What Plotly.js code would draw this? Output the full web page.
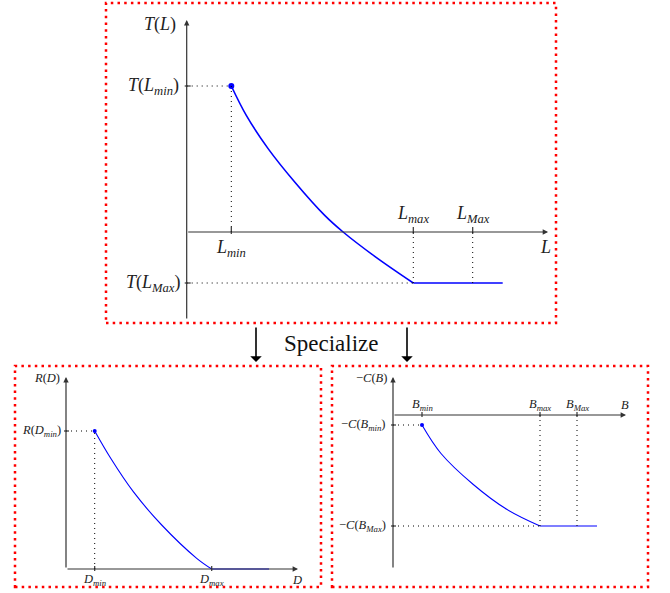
<!DOCTYPE html>
<html>
<head>
<meta charset="utf-8">
<script src="https://cdn.plot.ly/plotly-3.0.1.min.js"></script>
<style>body{margin:0;background:#fff}#chart{width:670px;height:593px}</style>
</head>
<body>
<div id="chart"></div>
<script>
// top: T(L)
const tL = [2.23, 2.98, 4.07, 5.4, 6.9, 7.82, 9.42, 11.33];
const tT = [7.3, 5.83, 4.17, 2.5, 0.83, 0, -1.23, -2.55];
const tFlatL = [11.33, 15.8];
const tFlatT = [-2.55, -2.55];
const Lmin = 2.23, Lmax = 11.33, LMax = 14.3, Tmin = 7.3, TMax = -2.55;

// bottom left: R(D)
const rD = [2.87, 4.47, 6.73, 9.57, 13.07, 14.57];
const rR = [13.8, 11.07, 7.73, 4.4, 1.07, 0];
const rFlatD = [14.57, 20.3];
const rFlatR = [0, 0];
const Dmin = 2.87, Dmax = 14.57, Rmin = 13.8;

// bottom right: -C(B)
const cB = [2.9, 4.8, 8.03, 11.37, 14.7];
const cC = [-1.0, -3.85, -6.95, -9.43, -11.1];
const cFlatB = [14.7, 20.4];
const cFlatC = [-11.1, -11.1];
const Bmin = 2.9, Bmax = 14.7, BMax = 18.4, Cmin = -1.0, CMax = -11.1;

const W = 670, H = 593;
const FONT = "'Liberation Serif', 'DejaVu Serif', 'Times New Roman', serif";

// box = [left, top, right, bottom] px, origin = [px, py], unit = px per data unit
function frame(box, origin, unit) {
  return {
    x: {domain: [box[0] / W, box[2] / W], range: [(box[0] - origin[0]) / unit, (box[2] - origin[0]) / unit]},
    y: {domain: [1 - box[3] / H, 1 - box[1] / H], range: [(origin[1] - box[3]) / unit, (origin[1] - box[1]) / unit]}
  };
}
const boxTop = [106, 3, 556, 323], boxLeft = [15, 366, 321, 587], boxRight = [332, 366, 648, 587];
const fTop = frame(boxTop, [186.7, 232], 20);
const fLeft = frame(boxLeft, [66, 569], 10);
const fRight = frame(boxRight, [393, 415], 10);

function ax(f, key) {
  return {domain: f[key].domain, range: f[key].range, autorange: false, visible: false, fixedrange: true};
}

const shapes = [];
const annotations = [];

function redBox(b) {
  shapes.push({type: 'rect', xref: 'paper', yref: 'paper',
    x0: b[0] / W, x1: b[2] / W, y0: 1 - b[3] / H, y1: 1 - b[1] / H,
    line: {color: '#ff0000', width: 2.5, dash: '2.5px,4.2px'}});
}
function dotted(n, x0, y0, x1, y1) {
  shapes.push({type: 'line', xref: 'x' + n, yref: 'y' + n, x0, y0, x1, y1,
    line: {color: '#000', width: 1, dash: '1px,4px'}});
}
function seg(n, x0, y0, x1, y1) {
  shapes.push({type: 'line', xref: 'x' + n, yref: 'y' + n, x0, y0, x1, y1,
    line: {color: '#333', width: 1.2}});
}
function arrow(n, x0, y0, x1, y1) {
  annotations.push({xref: 'x' + n, yref: 'y' + n, axref: 'x' + n, ayref: 'y' + n,
    x: x1, y: y1, ax: x0, ay: y0, text: '', showarrow: true,
    arrowhead: 2, arrowsize: 0.9, arrowwidth: 1.2, arrowcolor: '#333', standoff: 0, startstandoff: 0});
}
function label(n, x, y, text, size, xanchor) {
  annotations.push({xref: 'x' + n, yref: 'y' + n, x, y, text, showarrow: false,
    xanchor: xanchor || 'center', yanchor: 'middle',
    font: {family: FONT, size, color: '#222'}});
}

redBox(boxTop); redBox(boxLeft); redBox(boxRight);

const big = 18, small = 12.5;

// top plot
arrow('', 0, -4.4, 0, 10.6);
arrow('', 0, 0, 18.07, 0);
seg('', Lmin, -0.1, Lmin, 0.25);
seg('', Lmax, -0.1, Lmax, 0.25);
seg('', LMax, -0.1, LMax, 0.25);
seg('', -0.1, Tmin, 0.2, Tmin);
seg('', -0.1, TMax, 0.2, TMax);
dotted('', 0, Tmin, Lmin, Tmin);
dotted('', Lmin, 0, Lmin, Tmin);
dotted('', 0, TMax, Lmax, TMax);
dotted('', Lmax, 0, Lmax, TMax);
dotted('', LMax, 0, LMax, TMax);
label('', -0.45, 10.4, '<i>T</i>(<i>L</i>)', big, 'right');
label('', -0.3, Tmin, '<i>T</i>(<i>L<sub>min</sub></i>)', big, 'right');
label('', -0.25, TMax, '<i>T</i>(<i>L<sub>Max</sub></i>)', big, 'right');
label('', Lmin, -0.8, '<i>L<sub>min</sub></i>', big);
label('', Lmax, 0.9, '<i>L<sub>max</sub></i>', big);
label('', LMax, 0.9, '<i>L<sub>Max</sub></i>', big);
label('', 17.95, -0.75, '<i>L</i>', big);

// bottom left
arrow('2', 0, 0, 0, 19.2);
arrow('2', 0, 0, 23.2, 0);
seg('2', Dmin, -0.2, Dmin, 0.3);
seg('2', Dmax, -0.2, Dmax, 0.3);
seg('2', -0.2, Rmin, 0.3, Rmin);
dotted('2', 0, Rmin, Dmin, Rmin);
dotted('2', Dmin, 0, Dmin, Rmin);
label('2', -0.4, 19.1, '<i>R</i>(<i>D</i>)', small, 'right');
label('2', -0.3, Rmin, '<i>R</i>(<i>D<sub>min</sub></i>)', small, 'right');
label('2', Dmin, -1.1, '<i>D<sub>min</sub></i>', small);
label('2', Dmax, -1.1, '<i>D<sub>max</sub></i>', small);
label('2', 23.1, -1.1, '<i>D</i>', small);

// bottom right
arrow('3', 0, -15.4, 0, 3.8);
arrow('3', 0, 0, 23.3, 0);
seg('3', Bmin, -0.2, Bmin, 0.3);
seg('3', Bmax, -0.2, Bmax, 0.3);
seg('3', BMax, -0.2, BMax, 0.3);
seg('3', -0.2, Cmin, 0.3, Cmin);
seg('3', -0.2, CMax, 0.3, CMax);
dotted('3', 0, Cmin, Bmin, Cmin);
dotted('3', 0, CMax, Bmax, CMax);
dotted('3', Bmax, 0, Bmax, CMax);
dotted('3', BMax, 0, BMax, CMax);
label('3', -0.45, 3.7, '\u2212<i>C</i>(<i>B</i>)', small, 'right');
label('3', -0.5, Cmin, '\u2212<i>C</i>(<i>B<sub>min</sub></i>)', small, 'right');
label('3', -0.5, CMax, '\u2212<i>C</i>(<i>B<sub>Max</sub></i>)', small, 'right');
label('3', Bmin, 1.05, '<i>B<sub>min</sub></i>', small);
label('3', Bmax, 1.05, '<i>B<sub>max</sub></i>', small);
label('3', BMax, 1.05, '<i>B<sub>Max</sub></i>', small);
label('3', 23.2, 1.05, '<i>B</i>', small);

// "Specialize" arrows
[256, 407].forEach(px => {
  annotations.push({xref: 'paper', yref: 'paper', x: px / W, y: 1 - 362 / H,
    ax: 0, ay: -36, text: '', showarrow: true, arrowhead: 1, arrowsize: 1.2,
    arrowwidth: 1.6, arrowcolor: '#000', standoff: 0});
});
annotations.push({xref: 'paper', yref: 'paper', x: 331 / W, y: 1 - 343 / H,
  text: 'Specialize', showarrow: false, xanchor: 'center', yanchor: 'middle',
  font: {family: FONT, size: 23, color: '#111'}});

const blue = '#0000ff';
const traces = [
  {x: tL, y: tT, xaxis: 'x', yaxis: 'y', mode: 'lines', line: {color: blue, width: 1.6, shape: 'spline'}},
  {x: tFlatL, y: tFlatT, xaxis: 'x', yaxis: 'y', mode: 'lines', line: {color: blue, width: 1.6}},
  {x: [Lmin], y: [Tmin], xaxis: 'x', yaxis: 'y', mode: 'markers', marker: {color: blue, size: 6}},
  {x: rD, y: rR, xaxis: 'x2', yaxis: 'y2', mode: 'lines', line: {color: blue, width: 1.1, shape: 'spline'}},
  {x: rFlatD, y: rFlatR, xaxis: 'x2', yaxis: 'y2', mode: 'lines', line: {color: blue, width: 1.1}},
  {x: [Dmin], y: [Rmin], xaxis: 'x2', yaxis: 'y2', mode: 'markers', marker: {color: blue, size: 4}},
  {x: cB, y: cC, xaxis: 'x3', yaxis: 'y3', mode: 'lines', line: {color: blue, width: 1.1, shape: 'spline'}},
  {x: cFlatB, y: cFlatC, xaxis: 'x3', yaxis: 'y3', mode: 'lines', line: {color: blue, width: 1.1}},
  {x: [Bmin], y: [Cmin], xaxis: 'x3', yaxis: 'y3', mode: 'markers', marker: {color: blue, size: 4}}
];

const layout = {
  width: W, height: H,
  margin: {l: 0, r: 0, t: 0, b: 0},
  paper_bgcolor: '#fff', plot_bgcolor: 'rgba(0,0,0,0)',
  showlegend: false, hovermode: false,
  xaxis: Object.assign(ax(fTop, 'x'), {anchor: 'y'}),
  yaxis: Object.assign(ax(fTop, 'y'), {anchor: 'x'}),
  xaxis2: Object.assign(ax(fLeft, 'x'), {anchor: 'y2'}),
  yaxis2: Object.assign(ax(fLeft, 'y'), {anchor: 'x2'}),
  xaxis3: Object.assign(ax(fRight, 'x'), {anchor: 'y3'}),
  yaxis3: Object.assign(ax(fRight, 'y'), {anchor: 'x3'}),
  shapes, annotations
};

Plotly.newPlot('chart', traces, layout, {displayModeBar: false, staticPlot: true});
</script>
</body>
</html>
